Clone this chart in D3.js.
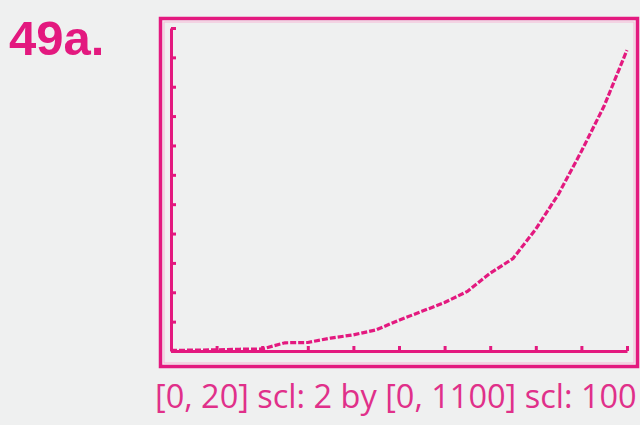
<!DOCTYPE html>
<html><head><meta charset="utf-8">
<script src="https://cdn.jsdelivr.net/npm/d3@7"></script>
<style>
html,body{margin:0;padding:0;background:#eff0f0;}
svg{display:block;}
</style></head>
<body>
<svg id="c" width="640" height="425"></svg>
<script>
// ---- data ----
const xValues = [0,1,2,3,4,5,6,7,8,9,10,11,12,13,14,15,16,17,18,19,20];
const yValues = [2,3,4,6,7,28,29,44,55,72,105,135,165,203,265,315,415,535,680,835,1025];
const xDomain = [0, 20];
const yDomain = [0, 1100];
const xScl = 2;
const yScl = 100;
const problemLabel = "49a.";
const windowLabel = "[0, 20] scl: 2 by [0, 1100] scl: 100";

const pink = "#e3197f";
const svg = d3.select("#c");

svg.append("rect").attr("width",640).attr("height",425).attr("fill","#eff0f0");

// label
svg.append("text").attr("x",9).attr("y",55)
  .attr("font-family","Liberation Sans, Arial, sans-serif")
  .attr("font-weight","bold").attr("font-size",49)
  .attr("fill",pink).text(problemLabel);

// outer frame
svg.append("rect").attr("x",160.5).attr("y",18.5).attr("width",477).attr("height",348)
  .attr("fill","none").attr("stroke",pink).attr("stroke-width",3.5);
svg.append("rect").attr("x",164).attr("y",22).attr("width",470).attr("height",341)
  .attr("fill","none").attr("stroke","#f7b6d6").attr("stroke-width",1);

const x = d3.scaleLinear().domain(xDomain).range([171, 627]);
const y = d3.scaleLinear().domain(yDomain).range([351, 28]);

const xAxis = d3.axisBottom(x)
  .tickValues(d3.range(xDomain[0], xDomain[1] + xScl/2, xScl))
  .tickSize(-5).tickSizeOuter(0).tickFormat("");
const yAxis = d3.axisLeft(y)
  .tickValues(d3.range(yDomain[0], yDomain[1] + yScl/2, yScl))
  .tickSize(-5).tickSizeOuter(0).tickFormat("");

const gx = svg.append("g").attr("transform",`translate(0,${y(0)})`).call(xAxis);
const gy = svg.append("g").attr("transform",`translate(${x(0)},0)`).call(yAxis);
[gx, gy].forEach(g => {
  g.select(".domain").attr("stroke",pink).attr("stroke-width",3);
  g.selectAll(".tick line").attr("stroke",pink).attr("stroke-width",3);
});

// curve
const line = d3.line().x((d,i)=>x(xValues[i])).y(d=>y(d));
svg.append("path").datum(yValues)
  .attr("d",line).attr("fill","none")
  .attr("stroke",pink).attr("stroke-width",3.2)
  .attr("stroke-dasharray","6,2");

// window caption
svg.append("text").attr("x",155).attr("y",408)
  .attr("font-family","Open Sans, Noto Sans, sans-serif")
  .attr("font-size",32.5).attr("fill","#e0308a")
  .text(windowLabel);
</script>
</body></html>
